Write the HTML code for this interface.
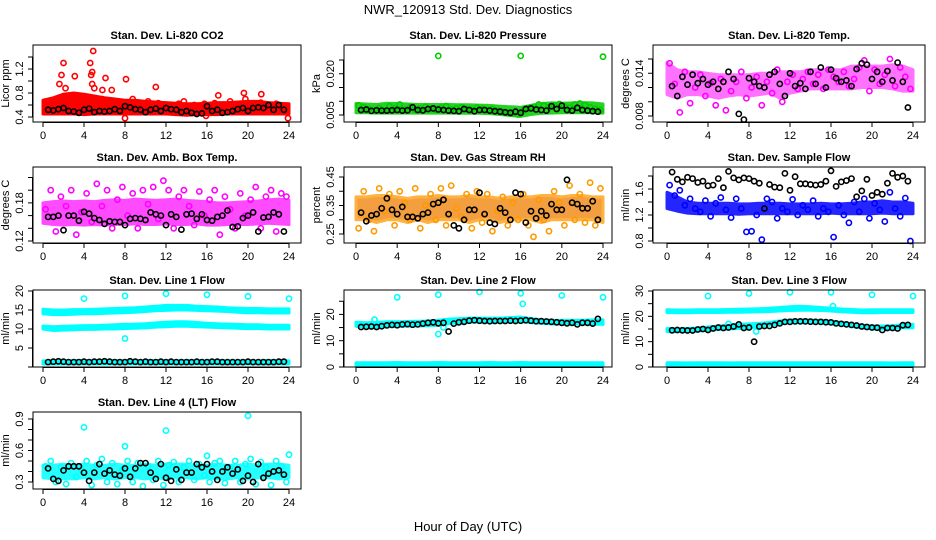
<!DOCTYPE html>
<html><head><meta charset="utf-8"><style>
html,body{margin:0;padding:0;background:#fff;}
svg{display:block;font-family:"Liberation Sans",Arial,sans-serif;}
</style></head><body>
<svg id="chart" width="936" height="540" viewBox="0 0 936 540">
<text x="468" y="14" text-anchor="middle" font-size="13">NWR_120913 Std. Dev. Diagnostics</text>
<text x="468" y="531" text-anchor="middle" font-size="13">Hour of Day (UTC)</text>
</svg>
<script>
// ---------- data ----------
const xTicks = [0,4,8,12,16,20,24];
// P1 CO2
const co2Lo = [0.45,0.45,0.45,0.45,0.44,0.45,0.45,0.45,0.45,0.45,0.45,0.45,0.45,0.44,0.43,0.44,0.44,0.44,0.45,0.45,0.45,0.45,0.45,0.45,0.45];
const co2Hi = [0.68,0.72,0.78,0.8,0.78,0.75,0.72,0.7,0.68,0.68,0.66,0.65,0.64,0.63,0.62,0.62,0.63,0.64,0.64,0.65,0.66,0.66,0.64,0.63,0.62];
const co2Pts = [0.55,0.62,0.7,0.58,0.66,0.74,0.6,0.72,0.68,0.56,0.64,0.7,0.58,0.66,0.62,0.55,0.64,0.7,0.6,0.57,0.66,0.52,0.63,0.6,0.58,0.56,0.62,0.66,0.52,0.6,0.58,0.62,0.55,0.63,0.58,0.6,0.66,0.56,0.62,0.7,0.58,0.55,0.64,0.6,0.57,0.62,0.58,0.55];
const co2OutH = [1.8,2.0,3.1,4.6,4.7,4.8,4.9,4.8,5.0,5.8,6.1,6.7,8.1,11,1.6,2.2,17.1,19.6,21.3,23.9,8.0,15.9];
const co2OutV = [1.1,1.3,1.08,1.3,1.1,1.15,1.5,0.95,0.88,0.85,1.05,0.85,1.03,0.9,0.95,0.88,0.76,0.8,0.78,0.38,0.38,0.42];
const co2Blk = [0.52,0.51,0.53,0.55,0.5,0.49,0.47,0.52,0.54,0.48,0.5,0.49,0.5,0.53,0.5,0.58,0.56,0.53,0.52,0.48,0.52,0.54,0.5,0.55,0.53,0.52,0.48,0.5,0.47,0.45,0.46,0.58,0.5,0.52,0.47,0.48,0.5,0.53,0.55,0.5,0.55,0.56,0.55,0.6,0.52,0.6,0.52];
// P2 Pressure
const prLo = [0.0058,0.0058,0.0057,0.0057,0.0057,0.0057,0.0057,0.0057,0.0057,0.0057,0.0056,0.0056,0.0056,0.0055,0.0052,0.0048,0.0045,0.0052,0.0056,0.0057,0.0058,0.0058,0.0058,0.0058,0.0057];
const prHi = [0.0092,0.009,0.0088,0.0093,0.0092,0.009,0.0088,0.0088,0.0088,0.0088,0.0087,0.0087,0.0086,0.0085,0.0082,0.008,0.0078,0.0085,0.0092,0.0094,0.0093,0.0094,0.0095,0.0094,0.009];
const prPts = [0.0085,0.0078,0.0072,0.0068,0.0075,0.0066,0.0082,0.0074,0.0088,0.007,0.0078,0.0068,0.0074,0.008,0.0072,0.0068,0.0076,0.0082,0.007,0.0074,0.0078,0.0072,0.0069,0.0076,0.0073,0.0068,0.0072,0.0066,0.0062,0.0058,0.0055,0.0052,0.0066,0.0074,0.008,0.0088,0.0084,0.0078,0.0085,0.009,0.0082,0.0076,0.0088,0.0092,0.0086,0.0078,0.0072,0.0068];
const prOutH = [8,16,24];
const prOutV = [0.0265,0.0265,0.0262];
const prBlk = [0.0068,0.007,0.0065,0.0067,0.0066,0.0066,0.0067,0.0068,0.0066,0.0067,0.0078,0.0068,0.0067,0.0072,0.0074,0.007,0.0068,0.0066,0.0065,0.0064,0.0072,0.0068,0.0064,0.0068,0.0068,0.0066,0.0064,0.0062,0.006,0.0058,0.0062,0.0058,0.0072,0.0074,0.007,0.0068,0.0066,0.0082,0.0072,0.0084,0.0068,0.0066,0.0076,0.0068,0.0066,0.0064,0.0062];
// P3 Li-820 temp
const ltLo = [0.011,0.0105,0.011,0.011,0.0108,0.0105,0.0108,0.011,0.0108,0.011,0.0112,0.0105,0.0112,0.0115,0.0118,0.0118,0.0118,0.0118,0.0118,0.012,0.012,0.012,0.0118,0.0115,0.0115];
const ltHi = [0.0155,0.0145,0.0142,0.0142,0.014,0.0138,0.0138,0.0138,0.0138,0.014,0.014,0.0142,0.0142,0.0142,0.0145,0.0145,0.0145,0.0145,0.015,0.015,0.015,0.015,0.0152,0.015,0.0145];
const ltPts = [0.0154,0.0125,0.0085,0.0142,0.0098,0.012,0.0138,0.0108,0.0126,0.0095,0.0132,0.0088,0.0115,0.0128,0.0142,0.0105,0.012,0.0135,0.0095,0.0128,0.0112,0.0145,0.01,0.0128,0.0138,0.0118,0.0132,0.0142,0.0125,0.0138,0.0118,0.0145,0.0135,0.0128,0.0142,0.0122,0.0132,0.0148,0.0158,0.0115,0.0145,0.0125,0.0138,0.016,0.0122,0.0148,0.0135,0.0118];
const ltBlk = [0.0122,0.0108,0.0135,0.0124,0.0138,0.0126,0.0132,0.0124,0.0128,0.0118,0.0128,0.0142,0.0132,0.0083,0.0075,0.0133,0.0128,0.0122,0.012,0.0138,0.0142,0.0125,0.0108,0.014,0.0122,0.0126,0.0118,0.0142,0.0125,0.0148,0.012,0.0145,0.0133,0.0128,0.013,0.0122,0.0146,0.0154,0.0152,0.0132,0.0142,0.0128,0.0143,0.013,0.0155,0.0128,0.0092];
// P4 Amb box temp
const abLo = [0.148,0.146,0.145,0.146,0.145,0.146,0.145,0.146,0.146,0.147,0.146,0.146,0.147,0.146,0.146,0.147,0.145,0.145,0.146,0.146,0.146,0.147,0.148,0.147,0.146];
const abHi = [0.18,0.182,0.183,0.182,0.183,0.182,0.184,0.185,0.184,0.186,0.185,0.184,0.185,0.186,0.184,0.183,0.182,0.18,0.18,0.181,0.182,0.183,0.185,0.186,0.184];
const abPts = [0.17,0.2,0.135,0.19,0.175,0.2,0.13,0.165,0.195,0.15,0.21,0.175,0.2,0.14,0.185,0.205,0.16,0.195,0.14,0.2,0.178,0.205,0.155,0.215,0.2,0.14,0.19,0.2,0.175,0.145,0.198,0.16,0.185,0.2,0.13,0.19,0.17,0.14,0.195,0.16,0.185,0.205,0.14,0.19,0.2,0.135,0.195,0.19];
const abBlk = [0.158,0.158,0.16,0.137,0.16,0.16,0.152,0.166,0.163,0.156,0.153,0.147,0.151,0.15,0.15,0.145,0.155,0.156,0.155,0.153,0.165,0.162,0.16,0.145,0.162,0.158,0.138,0.162,0.163,0.155,0.162,0.153,0.152,0.158,0.16,0.168,0.142,0.143,0.156,0.16,0.165,0.135,0.157,0.158,0.165,0.162,0.135];
// P5 Gas stream RH
const rhLo = [0.3,0.3,0.29,0.3,0.3,0.29,0.3,0.29,0.3,0.3,0.3,0.29,0.3,0.3,0.29,0.3,0.3,0.3,0.29,0.3,0.3,0.3,0.3,0.3,0.29];
const rhHi = [0.38,0.38,0.385,0.385,0.38,0.375,0.38,0.38,0.385,0.38,0.38,0.385,0.38,0.38,0.375,0.38,0.38,0.38,0.385,0.385,0.38,0.385,0.385,0.38,0.38];
const rhPts = [0.27,0.4,0.3,0.26,0.41,0.33,0.39,0.28,0.4,0.36,0.3,0.41,0.27,0.35,0.39,0.3,0.41,0.28,0.42,0.34,0.31,0.39,0.27,0.4,0.29,0.39,0.26,0.33,0.38,0.28,0.36,0.3,0.39,0.28,0.24,0.37,0.3,0.26,0.4,0.36,0.28,0.42,0.3,0.39,0.29,0.43,0.28,0.41];
const rhBlk = [0.325,0.295,0.315,0.32,0.34,0.375,0.335,0.32,0.345,0.31,0.31,0.305,0.32,0.325,0.355,0.36,0.37,0.32,0.28,0.27,0.3,0.335,0.335,0.395,0.32,0.29,0.285,0.34,0.325,0.3,0.395,0.39,0.29,0.33,0.305,0.33,0.315,0.355,0.335,0.335,0.44,0.36,0.355,0.34,0.34,0.365,0.3];
// P6 Sample flow
const sfLo = [1.3,1.26,1.23,1.22,1.22,1.22,1.22,1.21,1.22,1.22,1.22,1.22,1.22,1.22,1.22,1.22,1.23,1.22,1.22,1.22,1.22,1.23,1.22,1.22,1.22];
const sfHi = [1.55,1.48,1.4,1.38,1.38,1.38,1.38,1.37,1.37,1.38,1.38,1.38,1.37,1.37,1.37,1.38,1.37,1.37,1.38,1.4,1.4,1.42,1.4,1.4,1.38];
const sfPts = [1.66,1.5,1.58,1.35,1.45,1.3,1.25,1.42,1.18,1.38,1.47,1.28,1.16,1.45,1.3,0.94,0.95,1.2,0.82,1.45,1.4,1.15,1.3,1.25,1.44,1.2,1.35,1.28,1.42,1.18,1.3,1.25,0.86,1.35,1.2,1.08,1.4,1.25,1.45,1.15,1.38,1.28,1.1,1.55,1.3,1.18,1.46,0.8];
const sfBlk = [1.86,1.75,1.71,1.78,1.76,1.7,1.72,1.65,1.66,1.76,1.62,1.87,1.77,1.74,1.77,1.76,1.72,1.69,1.3,1.67,1.63,1.62,1.84,1.58,1.79,1.68,1.68,1.67,1.66,1.67,1.72,1.88,1.64,1.71,1.73,1.76,1.48,1.57,1.75,1.5,1.55,1.52,1.69,1.84,1.78,1.8,1.72];
// P7 Line 1 flow
const l1aLo = [14,13.8,13.8,13.9,14,14,14.1,14.2,14.3,14.4,14.6,14.8,14.9,15,15,14.9,14.8,14.7,14.6,14.4,14.3,14.3,14.2,14.2,14.2];
const l1aHi = [15.2,15,15,15.1,15.1,15.2,15.3,15.4,15.5,15.6,15.8,16,16.2,16.2,16.2,16,15.9,15.8,15.6,15.5,15.4,15.4,15.3,15.3,15.3];
const l1bLo = [10,9.6,9.7,9.8,9.9,9.9,10,10,10.1,10.2,10.3,10.5,10.6,10.7,10.7,10.6,10.5,10.4,10.3,10.2,10.1,10.1,10,10,10];
const l1bHi = [10.8,10.6,10.7,10.8,10.9,10.9,11,11.1,11.2,11.3,11.4,11.6,11.8,11.9,11.9,11.7,11.5,11.4,11.3,11.2,11.1,11.1,11,11,11];
const l1cLo = [0.8,0.8,0.8,0.8,0.8,0.8,0.8,0.8,0.8,0.8,0.8,0.8,0.8,0.8,0.8,0.8,0.8,0.8,0.8,0.8,0.8,0.8,0.8,0.8,0.8];
const l1cHi = [1.6,1.6,1.6,1.7,1.7,1.6,1.7,1.7,1.6,1.6,1.7,1.7,1.6,1.6,1.7,1.6,1.6,1.7,1.6,1.6,1.6,1.6,1.7,1.6,1.6];
const l1OutH = [4,8,12,16,20,24,8];
const l1OutV = [18,18.7,19.3,19,18.6,18,7.5];
const l1Blk = [1.3,1.4,1.5,1.4,1.3,1.3,1.3,1.4,1.3,1.4,1.4,1.5,1.4,1.3,1.3,1.3,1.5,1.4,1.3,1.4,1.3,1.3,1.4,1.3,1.4,1.3,1.3,1.3,1.3,1.4,1.3,1.3,1.4,1.4,1.3,1.3,1.3,1.3,1.3,1.4,1.3,1.3,1.3,1.3,1.3,1.4,1.4];
// P8 Line 2 flow
const l2aLo = [15.5,15.2,15.2,15.3,15.4,15.5,15.6,15.7,15.8,16.5,16.8,17,17,17,17,17.1,17.2,16.9,16.6,16.4,16.3,16.3,16.3,16.3,16.2];
const l2aHi = [17,16.8,17,17.2,17.2,17.3,17.4,17.5,17.8,18.2,18.4,18.6,18.6,18.6,18.6,18.8,19,18.4,18,17.8,17.7,17.7,17.8,17.9,17.9];
const l2bLo = [0.6,0.6,0.6,0.6,0.6,0.6,0.6,0.6,0.6,0.6,0.6,0.6,0.6,0.6,0.6,0.6,0.6,0.6,0.6,0.6,0.6,0.6,0.6,0.6,0.6];
const l2bHi = [1.6,1.6,1.6,1.6,1.7,1.6,1.6,1.6,1.7,1.6,1.6,1.6,1.6,1.7,1.6,1.6,1.7,1.6,1.6,1.6,1.6,1.6,1.6,1.6,1.6];
const l2OutH = [4,8,12,16,16.2,20,24,8,1.8,8.5];
const l2OutV = [26.5,27.5,28.5,28,24,27.2,26.5,12.5,18,15];
const l2Blk = [15.2,15.3,15.4,15.2,15.5,15.8,16,15.9,16.2,16.3,16.1,16.2,16.5,16.8,17,16.6,16.8,13.5,16.5,17,17.2,17.6,17.8,17.6,17.5,17.4,17.5,17.5,17.5,17.6,17.5,17.6,17.8,17.6,17.4,17.4,17.3,17.2,17,16.8,16.6,16.8,16.2,16.8,16.8,16.5,18.3];
// P9 Line 3 flow
const l3aLo = [21.5,21.4,21.4,21.5,21.5,21.5,21.6,21.6,21.7,21.8,21.9,22.1,22.3,22.4,22.4,22.3,22.1,21.8,21.6,21.4,21.4,21.5,21.5,21.5,21.5];
const l3aHi = [22.6,22.5,22.5,22.6,22.6,22.6,22.7,22.8,22.9,23,23.2,23.5,23.8,24,23.8,23.5,23.2,22.9,22.7,22.5,22.6,22.6,22.6,22.6,22.6];
const l3bLo = [14,13.9,14,14.2,14.5,14.8,15,15.2,15.4,16,16.5,17,17.5,17.5,17.5,17.4,17,16.6,16,15.5,15,15,15.2,15.5,15.5];
const l3bHi = [15.2,15,15.2,15.4,15.8,16.2,16.5,16.8,17,17.2,17.6,18.2,18.6,18.6,18.6,18.4,18,17.6,17,16.5,16.2,16.2,16.3,16.6,16.8];
const l3cLo = [0.6,0.6,0.6,0.6,0.6,0.6,0.6,0.6,0.6,0.6,0.6,0.6,0.6,0.6,0.6,0.6,0.6,0.6,0.6,0.6,0.6,0.6,0.6,0.6,0.6];
const l3cHi = [1.7,1.7,1.6,1.7,1.7,1.7,1.6,1.7,1.7,1.7,1.7,1.7,1.7,1.7,1.7,1.7,1.7,1.7,1.7,1.7,1.7,1.7,1.6,1.7,1.7];
const l3OutH = [4,8,12,16,20,24,16.2,8.7,6];
const l3OutV = [28,29,29.5,29.5,28.5,28,24,14,17];
const l3Blk = [14.5,14.6,14.5,14.4,14.4,14.8,15,14.6,15.2,15.6,15.4,15.6,16,16.8,15.4,15.6,10,16,16.2,16.2,16.6,17.2,17.8,17.8,18,18,18,17.9,17.8,17.8,17.7,17.6,17.2,17,16.8,16.6,16.4,16,15.8,15.6,15.5,14.6,15.4,15.4,15.2,16.5,16.6];
// P10 Line 4 flow
const l4Lo = [0.34,0.33,0.33,0.33,0.34,0.33,0.34,0.33,0.34,0.34,0.33,0.34,0.33,0.34,0.34,0.33,0.34,0.33,0.33,0.34,0.33,0.34,0.34,0.33,0.34];
const l4Hi = [0.46,0.46,0.47,0.46,0.47,0.46,0.46,0.47,0.46,0.46,0.47,0.46,0.47,0.47,0.47,0.46,0.46,0.47,0.46,0.46,0.47,0.46,0.47,0.47,0.46];
const l4Pts = [0.45,0.5,0.3,0.44,0.28,0.48,0.35,0.42,0.5,0.27,0.46,0.52,0.3,0.48,0.28,0.42,0.5,0.3,0.48,0.26,0.45,0.32,0.5,0.27,0.46,0.49,0.3,0.44,0.5,0.32,0.47,0.36,0.3,0.48,0.5,0.29,0.44,0.5,0.3,0.47,0.52,0.28,0.49,0.44,0.27,0.5,0.45,0.3];
const l4OutH = [4,8,12,20,16,24];
const l4OutV = [0.82,0.64,0.79,0.93,0.55,0.56];
const l4Blk = [0.43,0.33,0.31,0.41,0.45,0.45,0.45,0.39,0.31,0.39,0.47,0.38,0.41,0.37,0.36,0.43,0.35,0.43,0.48,0.48,0.39,0.33,0.47,0.34,0.31,0.42,0.32,0.39,0.39,0.47,0.44,0.47,0.4,0.32,0.4,0.44,0.38,0.42,0.31,0.36,0.3,0.47,0.34,0.38,0.4,0.41,0.37];

// ---------- layout ----------
const NS = 'http://www.w3.org/2000/svg';
const svg = document.getElementById('chart');
const cols = [{L:33,R:301,a:43,b:289},{L:344,R:612,a:356,b:603},{L:653,R:925,a:667,b:913}];
const rows = [{T:45,B:122},{T:167,B:243},{T:290,B:367},{T:412,B:489}];

function mk(tag, attrs, parent){
  const e = document.createElementNS(NS, tag);
  for (const k in attrs) e.setAttribute(k, attrs[k]);
  (parent||svg).appendChild(e);
  return e;
}

function panel(p){
  const c = cols[p.col], r = rows[p.row];
  const g = mk('g', {});
  
  
  const xs = h => c.a + (c.b - c.a) * h / 24;
  const ys = v => p.py0 + (v - p.v0) * (p.py1 - p.py0) / (p.v1 - p.v0);
  const t = mk('text', {x:(c.L+c.R)/2, y:r.T-6, 'text-anchor':'middle', 'font-size':'11', 'font-weight':'bold'}, g);
  t.textContent = p.title;
  
  
  (p.bands||[]).forEach(b => {
    let d = '';
    b.lo.forEach((v,i) => { d += (i?'L':'M') + xs(i).toFixed(1) + ' ' + ys(v).toFixed(1); });
    for (let i = b.hi.length-1; i >= 0; i--) d += 'L' + xs(i).toFixed(1) + ' ' + ys(b.hi[i]).toFixed(1);
    const pa = mk('path', {d:d+'Z', fill:p.fill||p.color, stroke:p.color, 'stroke-width':'3', 'stroke-linejoin':'round', opacity:(p.op||1)}, g);
    
    
  });
  const dot = (h, v, col, nm) => {
    const ci = mk('circle', {cx:xs(h).toFixed(1), cy:ys(v).toFixed(1), r:'2.6', fill:'none', stroke:col, 'stroke-width':'1.6'}, g);
    
    
  };
  (p.pts||[]).forEach((v,i) => dot(0.25 + i*0.5, v, p.color, 'data-point'));
  (p.outH||[]).forEach((h,i) => dot(h, p.outV[i], p.color, 'outlier-point'));
  (p.blk||[]).forEach((v,i) => dot(0.5 + i*0.5, v, '#000', 'reference-point'));
  const bx = mk('rect', {x:c.L, y:r.T, width:c.R-c.L, height:r.B-r.T, fill:'none', stroke:'#000', 'stroke-width':'1'}, g);
  
  
  mk('line', {x1:xs(0), x2:xs(24), y1:r.B+0.5, y2:r.B+0.5, stroke:'#000'}, g);
  xTicks.forEach(h => {
    mk('line', {x1:xs(h), x2:xs(h), y1:r.B, y2:r.B+5, stroke:'#000'}, g);
    const tl = mk('text', {x:xs(h), y:r.B+17, 'text-anchor':'middle', 'font-size':'11'}, g);
    tl.textContent = h;
    
    
  });
  const yt0 = ys(p.ticks[0]), yt1 = ys(p.ticks[p.ticks.length-1]);
  mk('line', {x1:c.L-0.5, x2:c.L-0.5, y1:yt0, y2:yt1, stroke:'#000'}, g);
  p.ticks.forEach(v => mk('line', {x1:c.L-5, x2:c.L, y1:ys(v), y2:ys(v), stroke:'#000'}, g));
  p.labels.forEach(v => {
    const y = ys(v), x = c.L - 10;
    const tl = mk('text', {x:x, y:y, 'text-anchor':'middle', 'font-size':'11', transform:`rotate(-90 ${x} ${y})`}, g);
    tl.textContent = p.fmt ? v.toFixed(p.fmt) : v;
    
    
  });
  const ym = (r.T + r.B)/2, xa = c.L - 24;
  const at = mk('text', {x:xa, y:ym, 'text-anchor':'middle', 'font-size':'11', transform:`rotate(-90 ${xa} ${ym})`}, g);
  at.textContent = p.ylab;
  
  
}

const RED='#ff0000', GRN='#00cc00', MAG='#ff00ff', ORG='#ff9900', BLU='#0000ff', CYN='#00ffff';
panel({name:'co2-panel', col:0,row:0,title:'Stan. Dev. Li-820 CO2',ylab:'Licor ppm',color:RED,v0:0.4,py0:117,v1:1.4,py1:57,ticks:[0.4,0.6,0.8,1.0,1.2,1.4],labels:[0.4,0.8,1.2],fmt:1,bands:[{lo:co2Lo,hi:co2Hi}],pts:co2Pts,outH:co2OutH,outV:co2OutV,blk:co2Blk});
panel({name:'pressure-panel', col:1,row:0,title:'Stan. Dev. Li-820 Pressure',ylab:'kPa',color:GRN,op:0.85,v0:0.005,py0:115,v1:0.025,py1:60,ticks:[0.005,0.01,0.015,0.02,0.025],labels:[0.005,0.02],fmt:3,bands:[{lo:prLo,hi:prHi}],pts:prPts,outH:prOutH,outV:prOutV,blk:prBlk});
panel({name:'li820-temp-panel', col:2,row:0,title:'Stan. Dev. Li-820 Temp.',ylab:'degrees C',color:MAG,op:0.55,v0:0.008,py0:116,v1:0.016,py1:59,ticks:[0.008,0.01,0.012,0.014,0.016],labels:[0.008,0.014],fmt:3,bands:[{lo:ltLo,hi:ltHi}],pts:ltPts,blk:ltBlk});
panel({name:'amb-box-temp-panel', col:0,row:1,title:'Stan. Dev. Amb. Box Temp.',ylab:'degrees C',color:MAG,op:0.7,v0:0.12,py0:241,v1:0.22,py1:177.5,ticks:[0.12,0.14,0.16,0.18,0.2,0.22],labels:[0.12,0.18],fmt:2,bands:[{lo:abLo,hi:abHi}],pts:abPts,blk:abBlk});
panel({name:'gas-rh-panel', col:1,row:1,title:'Stan. Dev. Gas Stream RH',ylab:'percent',color:ORG,fill:'#f08000',op:0.75,v0:0.25,py0:234,v1:0.45,py1:177,ticks:[0.25,0.3,0.35,0.4,0.45],labels:[0.25,0.35,0.45],fmt:2,bands:[{lo:rhLo,hi:rhHi}],pts:rhPts,blk:rhBlk});
panel({name:'sample-flow-panel', col:2,row:1,title:'Stan. Dev. Sample Flow',ylab:'ml/min',color:BLU,op:0.85,v0:0.8,py0:241,v1:1.6,py1:189,ticks:[0.8,1.0,1.2,1.4,1.6,1.8],labels:[0.8,1.2,1.6],fmt:1,bands:[{lo:sfLo,hi:sfHi}],pts:sfPts,blk:sfBlk});
panel({name:'line1-flow-panel', col:0,row:2,title:'Stan. Dev. Line 1 Flow',ylab:'ml/min',color:CYN,v0:0,py0:367,v1:20,py1:291,ticks:[0,5,10,15,20],labels:[5,10,15,20],bands:[{lo:l1aLo,hi:l1aHi},{lo:l1bLo,hi:l1bHi},{lo:l1cLo,hi:l1cHi}],outH:l1OutH,outV:l1OutV,blk:l1Blk});
panel({name:'line2-flow-panel', col:1,row:2,title:'Stan. Dev. Line 2 Flow',ylab:'ml/min',color:CYN,v0:0,py0:367,v1:20,py1:314.4,ticks:[0,5,10,15,20,25],labels:[0,10,20],bands:[{lo:l2aLo,hi:l2aHi},{lo:l2bLo,hi:l2bHi}],outH:l2OutH,outV:l2OutV,blk:l2Blk});
panel({name:'line3-flow-panel', col:2,row:2,title:'Stan. Dev. Line 3 Flow',ylab:'ml/min',color:CYN,v0:0,py0:367,v1:30,py1:291,ticks:[0,5,10,15,20,25,30],labels:[0,10,20,30],bands:[{lo:l3aLo,hi:l3aHi},{lo:l3bLo,hi:l3bHi},{lo:l3cLo,hi:l3cHi}],outH:l3OutH,outV:l3OutV,blk:l3Blk});
panel({name:'line4-flow-panel', col:0,row:3,title:'Stan. Dev. Line 4 (LT) Flow',ylab:'ml/min',color:CYN,op:0.85,v0:0.3,py0:482,v1:0.9,py1:419,ticks:[0.3,0.4,0.5,0.6,0.7,0.8,0.9],labels:[0.3,0.6,0.9],fmt:1,bands:[{lo:l4Lo,hi:l4Hi}],pts:l4Pts,outH:l4OutH,outV:l4OutV,blk:l4Blk});
</script>
</body></html>
